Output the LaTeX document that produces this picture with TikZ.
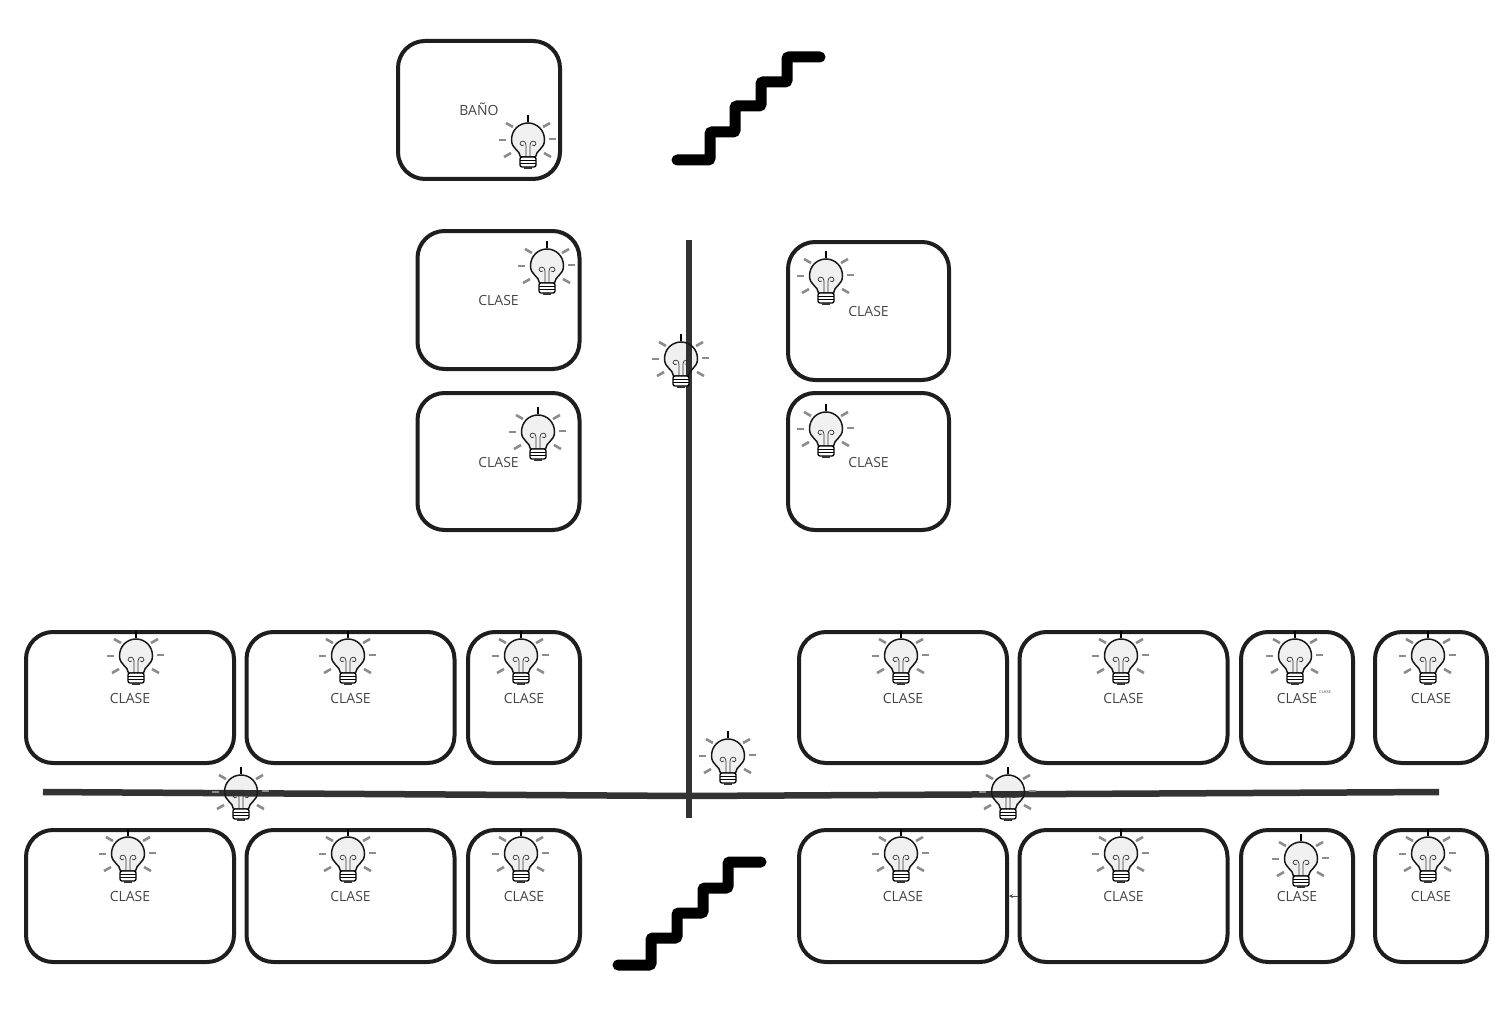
\documentclass[tikz,border=0pt]{standalone}
\usepackage{fontspec}
\setmainfont{Open Sans}
\usetikzlibrary{arrows.meta}
\definecolor{roomline}{HTML}{1E1E1E}
\definecolor{hallline}{HTML}{333333}
\definecolor{labeltext}{HTML}{444444}
\tikzset{
  room/.style={draw=roomline, line width=4pt, rounded corners=27pt, inner sep=0pt,
               text=labeltext, font=\fontsize{14}{16}\selectfont,
               text height=11pt, text depth=0pt},
  hall/.style={draw=hallline, line width=6.5pt},
  stairs/.style={draw=black, line width=11pt, line cap=round, line join=round, rounded corners=1pt},
  ray/.style={draw=black!45, line width=2.6pt},
}
% one lamp, origin in the middle of the glass
\newcommand{\lamp}[2]{%
  \begin{scope}[shift={(#1,#2+1)}]
    \draw[black, line width=1.2pt] (0,-27) -- (0,-20);
    \draw[ray] (-22,-19) -- (-15,-15);
    \draw[ray] (15,-15) -- (22,-19);
    \draw[ray] (-29,-2) -- (-22,-2);
    \draw[ray] (21,-3) -- (28,-3);
    \draw[ray] (-24,15) -- (-17,11);
    \draw[ray] (16,11) -- (23,15);
    \draw[fill=black, fill opacity=.06, draw=black!90, line width=1.5pt]
      (-7.5,15) .. controls (-8,8) and (-16.5,7) .. (-16.5,-2)
      .. controls (-16.5,-12) and (-9,-19) .. (0,-19)
      .. controls (9,-19) and (16.5,-12) .. (16.5,-2)
      .. controls (16.5,7) and (8,8) .. (7.5,15) -- cycle;
    \draw[black!80, line width=.7pt]
      (-2,15) -- (-2,3) .. controls (-2,-2) and (-8,-2) .. (-8,2) .. controls (-8,4) and (-5,4) .. (-4,3)
      (2,15) -- (2,3) .. controls (2,-2) and (8,-2) .. (8,2) .. controls (8,4) and (5,4) .. (4,3);
    \draw[fill=white, draw=black, line width=1.3pt, rounded corners=2pt] (-8,15) rectangle (8,25);
    \draw[black, line width=1.5pt] (-8,18.5) -- (8,18.5) (-8,21.5) -- (8,21.5);
    \fill[black!80] (-4,25) rectangle (4,27);
  \end{scope}%
}

\begin{document}
\begin{tikzpicture}[x=1pt, y=-1pt]
\useasboundingbox (0,0) rectangle (1509,1035);

\foreach \rname/\rx/\ry/\rw/\rh/\rtext in {
    bano/479/110/162/138/BAÑO,
    ca/498.5/300/162/138/CLASE, cb/498.5/461.5/162/137/CLASE,
    cc/868.5/311/161/138/CLASE, cd/868.5/461.5/161/137/CLASE,
    ta/130/697.5/208/131/CLASE, tb/350.5/697.5/208/131/CLASE, tc/524/697.5/112/131/CLASE,
    td/903/697.5/208/131/CLASE, te/1123.5/697.5/208/131/CLASE, tf/1297/697.5/112/131/CLASE,
    tg/1431/697.5/112/131/CLASE,
    ba/130/896/208/132/CLASE, bb/350.5/896/208/132/CLASE, bc/524/896/112/132/CLASE,
    bd/903/896/208/132/CLASE, be/1123.5/896/208/132/CLASE, bf/1297/896/112/132/CLASE,
    bg/1431/896/112/132/CLASE}
  \node[room, minimum width=\rw pt, minimum height=\rh pt] (\rname) at (\rx,\ry) {\rtext};

\node[text=labeltext, font=\fontsize{4}{5}\selectfont, inner sep=0pt] (tiny) at (1325,692) {CLASE};

\coordinate (hallN) at (689,240);
\coordinate (hallS) at (689,818);
\coordinate (hallW) at (43,792);
\coordinate (hallE) at (1439,792);
\coordinate (hallX) at (689,796);
\draw[hall] (hallN) -- (hallS);
\draw[hall] (hallW) -- (hallX) -- (hallE);

\foreach \lx/\ly in {528/141, 547/267, 538/433, 681/360, 826/277, 826/430,
    136/657, 348/657, 521/657, 901/657, 1121/657, 1295/657, 1428/657,
    728/757, 241/793, 1008/793,
    128/855, 348/855, 521/855, 901/855, 1121/855, 1301/860, 1428/855}
  {\lamp{\lx}{\ly}}

\draw[stairs] (677,160) -- (710,160) -- (710,132) -- (735,132) -- (735,106)
  -- (761,106) -- (761,82) -- (787,82) -- (787,57) -- (820,57);
\draw[stairs] (618,965) -- (651,965) -- (651,938) -- (677,938) -- (677,913)
  -- (703,913) -- (703,888) -- (728,888) -- (728,862) -- (761,862);

\draw[-{Stealth[length=4pt,width=4pt]}, black!70, line width=.6pt] (be.west) -- (bd.east);
\end{tikzpicture}
\end{document}
